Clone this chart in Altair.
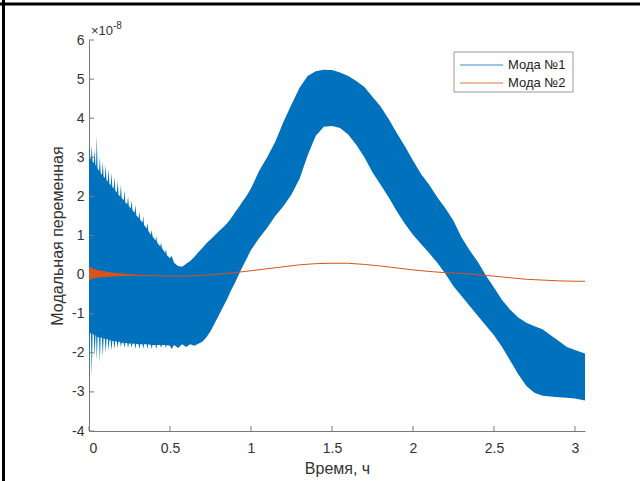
import altair as alt
import pandas as pd

# ---------------- data (values in units of 1e-8) ----------------
t1 = [0.000, 0.005, 0.012, 0.017, 0.022, 0.030, 0.035, 0.040, 0.044, 0.048, 0.053, 0.062,
      0.067, 0.072, 0.080, 0.085, 0.090, 0.098, 0.103, 0.108, 0.116, 0.121, 0.126, 0.134,
      0.139, 0.144, 0.152, 0.157, 0.162, 0.172, 0.177, 0.182, 0.192, 0.197, 0.202, 0.214,
      0.219, 0.224, 0.236, 0.241, 0.246, 0.258, 0.263, 0.268, 0.282, 0.287, 0.292, 0.306,
      0.311, 0.316, 0.330, 0.335, 0.340, 0.356, 0.361, 0.366, 0.382, 0.387, 0.392, 0.410,
      0.415, 0.420, 0.440, 0.445, 0.450, 0.470, 0.475, 0.480, 0.500, 0.510, 0.525,
      0.55, 0.575, 0.6, 0.625, 0.65, 0.675, 0.7, 0.725, 0.75, 0.775, 0.8, 0.825, 0.85, 0.875,
      0.9, 0.925, 0.95, 0.975, 1.0, 1.05, 1.1, 1.15, 1.2, 1.25, 1.3, 1.35, 1.4, 1.45, 1.5,
      1.55, 1.6, 1.65, 1.7, 1.75, 1.8, 1.85, 1.9, 1.95, 2.0, 2.05, 2.1, 2.15, 2.2, 2.25,
      2.3, 2.35, 2.4, 2.45, 2.5, 2.55, 2.6, 2.65, 2.7, 2.75, 2.8, 2.85, 2.9, 2.95, 3.0, 3.062]
m1_upper = [3.5, 3.0, 2.95, 3.3, 2.9, 2.85, 3.2, 2.8, 2.78, 3.55, 2.72, 2.65,
            3.0, 2.6, 2.55, 2.9, 2.5, 2.47, 2.8, 2.42, 2.38, 2.7, 2.33, 2.28,
            2.6, 2.24, 2.2, 2.5, 2.15, 2.1, 2.4, 2.05, 2.0, 2.3, 1.95, 1.9,
            2.15, 1.85, 1.8, 2.0, 1.75, 1.7, 1.9, 1.65, 1.58, 1.78, 1.52, 1.45,
            1.62, 1.4, 1.33, 1.5, 1.27, 1.18, 1.32, 1.12, 1.02, 1.15, 0.98, 0.87,
            0.98, 0.83, 0.72, 0.82, 0.68, 0.55, 0.65, 0.5, 0.42, 0.48, 0.3,
            0.22, 0.2, 0.28, 0.35, 0.45, 0.57, 0.68, 0.8, 0.9, 1.0, 1.1, 1.2, 1.3, 1.43,
            1.58, 1.73, 1.88, 2.03, 2.2, 2.65, 3.0, 3.4, 3.9, 4.35, 4.78, 5.08, 5.2, 5.24, 5.23,
            5.17, 5.08, 4.95, 4.8, 4.55, 4.3, 3.98, 3.62, 3.28, 2.92, 2.57, 2.3, 1.98, 1.7, 1.38,
            0.95, 0.62, 0.33, -0.02, -0.33, -0.65, -0.9, -1.1, -1.23, -1.32, -1.4, -1.55, -1.7,
            -1.85, -1.93, -2.02]
m1_lower = [-2.8, -1.5, -1.5, -2.6, -1.5, -1.55, -2.1, -1.55, -1.55, -2.2, -1.6, -1.6,
            -2.25, -1.6, -1.62, -2.1, -1.62, -1.65, -2.0, -1.65, -1.65, -1.95, -1.68, -1.68,
            -1.95, -1.7, -1.7, -1.9, -1.7, -1.72, -1.88, -1.72, -1.72, -1.85, -1.74, -1.74,
            -1.88, -1.75, -1.75, -1.88, -1.76, -1.76, -1.88, -1.76, -1.77, -1.9, -1.77, -1.78,
            -1.9, -1.78, -1.78, -1.9, -1.78, -1.78, -1.9, -1.78, -1.8, -1.9, -1.8, -1.8,
            -1.9, -1.8, -1.8, -1.88, -1.8, -1.8, -1.88, -1.8, -1.82, -1.9, -1.8,
            -1.88, -1.78, -1.85, -1.78, -1.82, -1.77, -1.72, -1.6, -1.45, -1.25, -1.05, -0.85,
            -0.65, -0.42, -0.22, 0.0, 0.22, 0.42, 0.63, 0.93, 1.2, 1.5, 1.75, 2.05, 2.45, 3.05,
            3.55, 3.78, 3.8, 3.75, 3.58, 3.32, 3.0, 2.62, 2.3, 1.98, 1.62, 1.3, 1.02, 0.78, 0.55,
            0.3, 0.02, -0.3, -0.55, -0.8, -1.05, -1.3, -1.55, -1.85, -2.2, -2.55, -2.85, -3.02,
            -3.1, -3.12, -3.14, -3.15, -3.17, -3.22]

t2 = [0, 0.1, 0.2, 0.3, 0.4, 0.5, 0.6, 0.7, 0.8, 0.9, 1.0, 1.1, 1.2, 1.3, 1.4, 1.5, 1.6,
      1.7, 1.8, 1.9, 2.0, 2.1, 2.2, 2.3, 2.4, 2.5, 2.6, 2.7, 2.8, 2.9, 3.0, 3.062]
m2 = [0.03, 0.01, -0.01, -0.02, -0.03, -0.04, -0.04, -0.02, 0.01, 0.05, 0.1, 0.15, 0.2,
      0.25, 0.28, 0.29, 0.29, 0.26, 0.22, 0.17, 0.12, 0.08, 0.05, 0.03, 0.0, -0.04, -0.08,
      -0.12, -0.14, -0.16, -0.17, -0.17]

t2_env = [0, 0.02, 0.05, 0.1, 0.15, 0.2, 0.25, 0.3]
m2_env_upper = [0.2, 0.16, 0.12, 0.08, 0.05, 0.03, 0.01, 0.0]
m2_env_lower = [-0.14, -0.11, -0.08, -0.06, -0.05, -0.04, -0.03, -0.02]

x_ticks = [0, 0.5, 1, 1.5, 2, 2.5, 3]
y_ticks = [-4, -3, -2, -1, 0, 1, 2, 3, 4, 5, 6]
legend_labels = ["Мода №1", "Мода №2"]

# ---------------- style ----------------
BLUE = "#0072BD"
ORANGE = "#D95319"
FONT = "Liberation Sans"
AX = "#7a7a7a"
TXT = "#333333"
W, H = 496, 391

xs = alt.Scale(domain=[0, 3.062], nice=False, zero=False)
ys = alt.Scale(domain=[-4, 6], nice=False, zero=False)

df1 = pd.DataFrame({"t": t1, "hi": m1_upper, "lo": m1_lower})
df2 = pd.DataFrame({"t": t2, "v": m2})
df2e = pd.DataFrame({"t": t2_env, "hi": m2_env_upper, "lo": m2_env_lower})

x_axis = alt.Axis(values=x_ticks, title="Время, ч", labelExpr="'' + datum.value",
                  ticks=False, grid=False, domainColor=AX, domainWidth=1,
                  labelFont=FONT, labelFontSize=14, labelColor=TXT, labelPadding=10,
                  titleFont=FONT, titleFontSize=16, titleFontWeight="normal", titleColor=TXT,
                  titleX=W / 2, titleY=42, titleBaseline="alphabetic", titleAlign="center")
y_axis = alt.Axis(values=y_ticks, title="Модальная переменная", labelExpr="'' + datum.value",
                  ticks=False, grid=False, domainColor=AX, domainWidth=1,
                  labelFont=FONT, labelFontSize=14, labelColor=TXT, labelPadding=5,
                  titleFont=FONT, titleFontSize=16, titleFontWeight="normal", titleColor=TXT,
                  titleX=-27, titleY=H / 2, titleBaseline="alphabetic", titleAlign="center",
                  titleAngle=270)

band1 = alt.Chart(df1).mark_area(color=BLUE, opacity=1).encode(
    x=alt.X("t:Q", scale=xs, axis=x_axis),
    y=alt.Y("hi:Q", scale=ys, axis=y_axis),
    y2="lo:Q",
)
band2 = alt.Chart(df2e).mark_area(color=ORANGE, opacity=1).encode(
    x=alt.X("t:Q", scale=xs, axis=x_axis),
    y=alt.Y("hi:Q", scale=ys, axis=y_axis),
    y2="lo:Q",
)
line2 = alt.Chart(df2).mark_line(color=ORANGE, strokeWidth=1).encode(
    x=alt.X("t:Q", scale=xs, axis=x_axis),
    y=alt.Y("v:Q", scale=ys, axis=y_axis),
)

xt = alt.Chart(pd.DataFrame({"t": x_ticks})).mark_rule(color=AX, strokeWidth=1).encode(
    x=alt.X("t:Q", scale=xs, axis=x_axis), y=alt.value(H), y2=alt.value(H - 5))
yt = alt.Chart(pd.DataFrame({"v": y_ticks})).mark_rule(color=AX, strokeWidth=1).encode(
    y=alt.Y("v:Q", scale=ys, axis=y_axis), x=alt.value(0), x2=alt.value(5))

one = pd.DataFrame({"a": [0]})
exp1 = alt.Chart(one).mark_text(text="×10", font=FONT, fontSize=13, color=TXT,
                                align="left", baseline="alphabetic").encode(
    x=alt.value(2), y=alt.value(-5))
exp2 = alt.Chart(one).mark_text(text="-8", font=FONT, fontSize=10, color=TXT,
                                align="left", baseline="alphabetic").encode(
    x=alt.value(24), y=alt.value(-11))

leg_box = alt.Chart(one).mark_rect(fill="white", stroke="#9a9a9a", strokeWidth=1).encode(
    x=alt.value(365), x2=alt.value(484), y=alt.value(12), y2=alt.value(52))
leg_layers = [leg_box]
for lbl, col, yy in zip(legend_labels, [BLUE, ORANGE], [25, 43]):
    leg_layers.append(alt.Chart(one).mark_rule(color=col, strokeWidth=1, opacity=0.8).encode(
        x=alt.value(371), x2=alt.value(414), y=alt.value(yy)))
    leg_layers.append(alt.Chart(one).mark_text(text=lbl, font=FONT, fontSize=13, color="#222",
                                               align="left", baseline="middle").encode(
        x=alt.value(419), y=alt.value(yy)))

frame_top = alt.Chart(one).mark_rule(color="black", strokeWidth=3).encode(
    x=alt.value(-89), x2=alt.value(551), y=alt.value(-36))
frame_left = alt.Chart(one).mark_rule(color="black", strokeWidth=3).encode(
    x=alt.value(-85.5), y=alt.value(-40), y2=alt.value(441))

chart = alt.layer(band1, band2, line2, xt, yt, exp1, exp2, *leg_layers, frame_top, frame_left).properties(
    width=W, height=H,
    padding={"left": 89, "top": 40, "right": 55, "bottom": 50},
    autosize=alt.AutoSizeParams(type="none"),
    background="white",
).configure_view(stroke=None)

chart.save("out.html", embed_options={"renderer": "svg", "actions": False})
